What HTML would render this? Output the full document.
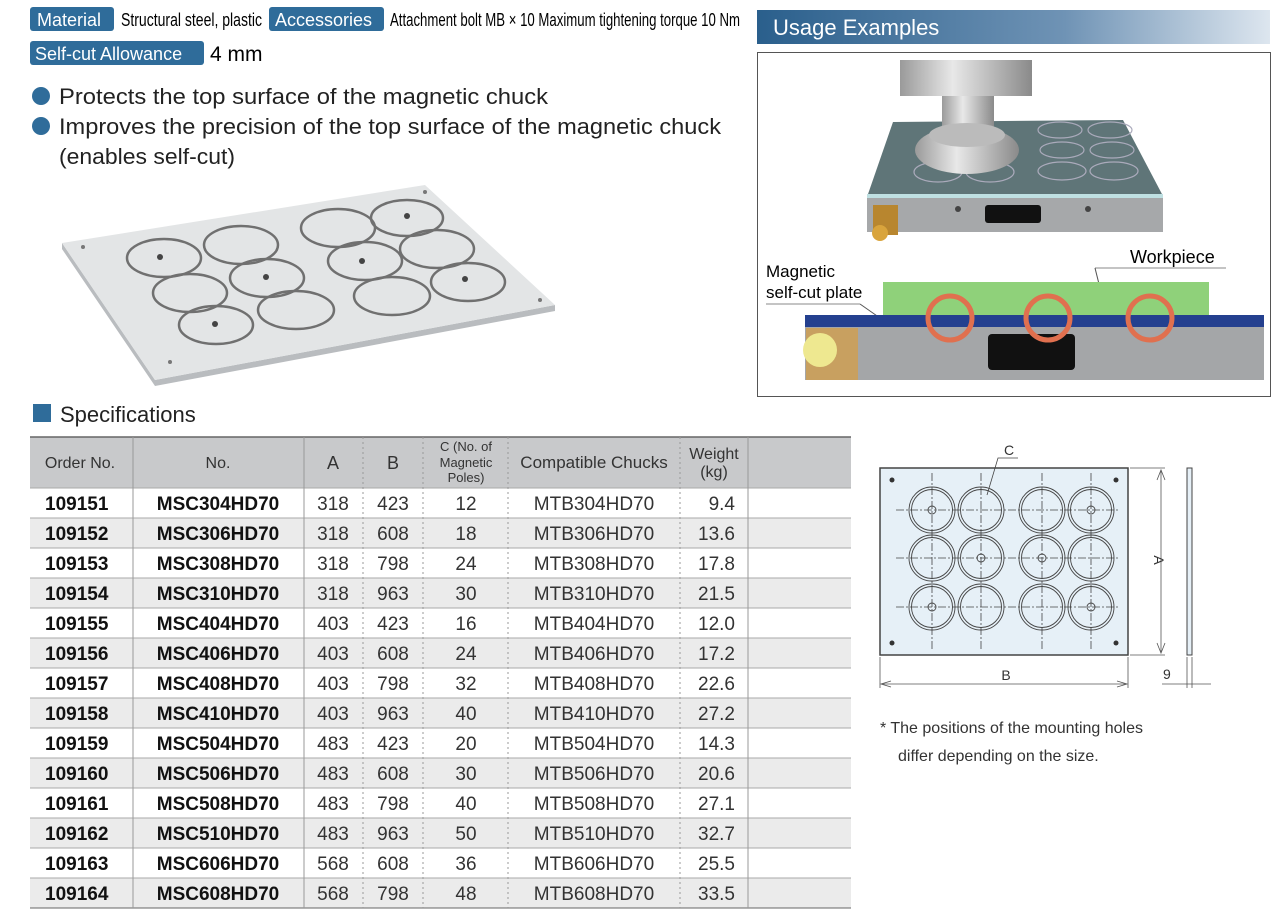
<!DOCTYPE html>
<html><head><meta charset="utf-8"><style>
body{margin:0;background:#fff;}
svg{display:block;font-family:"Liberation Sans",sans-serif;}
</style></head><body>
<svg width="1280" height="919" viewBox="0 0 1280 919" xmlns="http://www.w3.org/2000/svg">
<defs>
<linearGradient id="ub" x1="0" x2="1" y1="0" y2="0"><stop offset="0" stop-color="#2a5f8c"/><stop offset="0.6" stop-color="#6f93b5"/><stop offset="1" stop-color="#dde6ef"/></linearGradient>
<linearGradient id="sp" x1="0" x2="1"><stop offset="0" stop-color="#9a9a9a"/><stop offset="0.4" stop-color="#e8e8e8"/><stop offset="1" stop-color="#8a8a8a"/></linearGradient>
</defs>
<!-- badges -->
<rect x="30" y="7" width="84" height="24" rx="3" fill="#2f6c9a"/>
<text x="37" y="26" font-size="18" fill="#fff">Material</text>
<text x="121" y="26" font-size="18" textLength="141" lengthAdjust="spacingAndGlyphs">Structural steel, plastic</text>
<rect x="269" y="7" width="115" height="24" rx="3" fill="#2f6c9a"/>
<text x="275" y="26" font-size="18" fill="#fff">Accessories</text>
<text x="390" y="26" font-size="18" textLength="350" lengthAdjust="spacingAndGlyphs">Attachment bolt MB × 10  Maximum tightening torque 10 Nm</text>
<rect x="30" y="41" width="174" height="24" rx="3" fill="#2f6c9a"/>
<text x="35" y="60" font-size="18" fill="#fff">Self-cut Allowance</text>
<text x="210" y="61" font-size="21">4 mm</text>
<circle cx="41" cy="96" r="9" fill="#2f6c9a"/>
<text x="59" y="104" font-size="22" fill="#222" textLength="489" lengthAdjust="spacingAndGlyphs">Protects the top surface of the magnetic chuck</text>
<circle cx="41" cy="126" r="9" fill="#2f6c9a"/>
<text x="59" y="134" font-size="22" fill="#222" textLength="662" lengthAdjust="spacingAndGlyphs">Improves the precision of the top surface of the magnetic chuck</text>
<text x="59" y="164" font-size="22" fill="#222" textLength="176" lengthAdjust="spacingAndGlyphs">(enables self-cut)</text>

<!-- product plate -->
<polygon points="62,243 155,380 555,305 555,311 155,386 62,249" fill="#b9bcbf"/>
<polygon points="62,243 425,185 555,305 155,380" fill="#e3e5e6"/>
<g fill="none" stroke="#707070" stroke-width="2.5">
<ellipse cx="164" cy="258" rx="37" ry="19"/><ellipse cx="241" cy="245" rx="37" ry="19"/>
<ellipse cx="338" cy="228" rx="37" ry="19"/><ellipse cx="407" cy="218" rx="36" ry="18"/>
<ellipse cx="190" cy="293" rx="37" ry="19"/><ellipse cx="267" cy="278" rx="37" ry="19"/>
<ellipse cx="365" cy="261" rx="37" ry="19"/><ellipse cx="437" cy="249" rx="37" ry="19"/>
<ellipse cx="216" cy="325" rx="37" ry="19"/><ellipse cx="296" cy="310" rx="38" ry="19"/>
<ellipse cx="392" cy="296" rx="38" ry="19"/><ellipse cx="468" cy="282" rx="37" ry="19"/>
</g>
<g fill="#444"><circle cx="160" cy="257" r="3"/><circle cx="407" cy="216" r="3"/>
<circle cx="266" cy="277" r="3"/><circle cx="362" cy="261" r="3"/>
<circle cx="215" cy="324" r="3"/><circle cx="465" cy="279" r="3"/></g>
<circle cx="83" cy="247" r="2" fill="#777"/><circle cx="425" cy="192" r="2" fill="#777"/><circle cx="540" cy="300" r="2" fill="#777"/><circle cx="170" cy="362" r="2" fill="#777"/>

<!-- usage -->
<rect x="757" y="10" width="513" height="34" fill="url(#ub)"/>
<text x="773" y="35" font-size="22" fill="#fff">Usage Examples</text>
<rect x="757.5" y="52.5" width="513" height="344" fill="#fff" stroke="#555"/>
<polygon points="867,197 893,122 1123,120 1163,196" fill="#5f7578"/>
<rect x="867" y="197" width="296" height="35" fill="#a6a8aa"/>
<rect x="867" y="194" width="296" height="4" fill="#bfe0e2"/>
<g fill="none" stroke="#aab" stroke-width="1.2">
<ellipse cx="938" cy="172" rx="24" ry="10"/><ellipse cx="990" cy="172" rx="24" ry="10"/>
<ellipse cx="1060" cy="130" rx="22" ry="8"/><ellipse cx="1110" cy="130" rx="22" ry="8"/>
<ellipse cx="1062" cy="150" rx="22" ry="8"/><ellipse cx="1112" cy="150" rx="22" ry="8"/>
<ellipse cx="1062" cy="171" rx="24" ry="9"/><ellipse cx="1114" cy="171" rx="24" ry="9"/>
</g>
<rect x="900" y="60" width="132" height="36" fill="url(#sp)"/>
<rect x="942" y="96" width="52" height="32" fill="url(#sp)"/>
<ellipse cx="967" cy="150" rx="52" ry="24" fill="url(#sp)"/>
<ellipse cx="967" cy="135" rx="38" ry="12" fill="#bbb"/>
<rect x="985" y="205" width="56" height="18" rx="3" fill="#111"/>
<circle cx="958" cy="209" r="3" fill="#444"/><circle cx="1088" cy="209" r="3" fill="#444"/>
<rect x="873" y="205" width="25" height="30" fill="#b8862f"/>
<circle cx="880" cy="233" r="8" fill="#d9a43c"/>

<text x="1130" y="263" font-size="18">Workpiece</text>
<line x1="1095" y1="268" x2="1226" y2="268" stroke="#888"/>
<line x1="1095" y1="268" x2="1102" y2="296" stroke="#555"/>
<text x="766" y="277" font-size="17">Magnetic</text>
<text x="766" y="298" font-size="17">self-cut plate</text>
<line x1="766" y1="304" x2="860" y2="304" stroke="#888"/>
<line x1="860" y1="304" x2="880" y2="318" stroke="#555"/>
<rect x="883" y="282" width="326" height="34" fill="#8fd17a"/>
<rect x="805" y="315" width="459" height="12" fill="#24408f"/>
<rect x="805" y="327" width="459" height="53" fill="#a4a6a8"/>
<rect x="988" y="334" width="87" height="36" rx="4" fill="#111"/>
<rect x="806" y="328" width="52" height="52" fill="#c8a060"/>
<circle cx="820" cy="350" r="17" fill="#eee890"/>
<g fill="none" stroke="#e0704f" stroke-width="5">
<circle cx="950" cy="318" r="22"/><circle cx="1048" cy="318" r="22"/><circle cx="1150" cy="318" r="22"/>
</g>

<!-- specifications -->
<rect x="33" y="404" width="18" height="18" fill="#2f6c9a"/>
<text x="60" y="422" font-size="22" fill="#222">Specifications</text>
<rect x="30" y="437" width="821" height="51" fill="#c8c9cb"/>
<line x1="30" y1="437" x2="851" y2="437" stroke="#666" stroke-width="1.5"/>
<g fill="#333" font-size="16" text-anchor="middle">
<text x="80" y="468">Order No.</text><text x="218" y="468">No.</text>
<text x="333" y="469" font-size="18">A</text><text x="393" y="469" font-size="18">B</text>
<text x="466" y="451" font-size="13">C (No. of</text><text x="466" y="467" font-size="13">Magnetic</text><text x="466" y="482" font-size="13">Poles)</text>
<text x="594" y="468" font-size="17">Compatible Chucks</text>
<text x="714" y="459" font-size="16">Weight</text><text x="714" y="477" font-size="16">(kg)</text>
</g>
<g id="rows" font-size="19" fill="#111">
<rect x="30" y="518" width="821" height="30" fill="#ebebeb"/>
<rect x="30" y="578" width="821" height="30" fill="#ebebeb"/>
<rect x="30" y="638" width="821" height="30" fill="#ebebeb"/>
<rect x="30" y="698" width="821" height="30" fill="#ebebeb"/>
<rect x="30" y="758" width="821" height="30" fill="#ebebeb"/>
<rect x="30" y="818" width="821" height="30" fill="#ebebeb"/>
<rect x="30" y="878" width="821" height="30" fill="#ebebeb"/>
<g stroke="#aaa" stroke-width="1">
<line x1="30" y1="488" x2="851" y2="488"/><line x1="30" y1="518" x2="851" y2="518"/><line x1="30" y1="548" x2="851" y2="548"/><line x1="30" y1="578" x2="851" y2="578"/><line x1="30" y1="608" x2="851" y2="608"/><line x1="30" y1="638" x2="851" y2="638"/><line x1="30" y1="668" x2="851" y2="668"/><line x1="30" y1="698" x2="851" y2="698"/><line x1="30" y1="728" x2="851" y2="728"/><line x1="30" y1="758" x2="851" y2="758"/><line x1="30" y1="788" x2="851" y2="788"/><line x1="30" y1="818" x2="851" y2="818"/><line x1="30" y1="848" x2="851" y2="848"/><line x1="30" y1="878" x2="851" y2="878"/><line x1="30" y1="908" x2="851" y2="908" stroke="#666"/>
</g>
<g stroke="#999" stroke-width="1">
<line x1="133" y1="437" x2="133" y2="908"/><line x1="304" y1="437" x2="304" y2="908"/><line x1="748" y1="437" x2="748" y2="908"/>
</g>
<g stroke="#999" stroke-width="1" stroke-dasharray="2,3">
<line x1="363" y1="437" x2="363" y2="908"/><line x1="423" y1="437" x2="423" y2="908"/><line x1="508" y1="437" x2="508" y2="908"/><line x1="680" y1="437" x2="680" y2="908"/>
</g>
<g font-weight="bold"><text x="45" y="510">109151</text><text x="45" y="540">109152</text><text x="45" y="570">109153</text><text x="45" y="600">109154</text><text x="45" y="630">109155</text><text x="45" y="660">109156</text><text x="45" y="690">109157</text><text x="45" y="720">109158</text><text x="45" y="750">109159</text><text x="45" y="780">109160</text><text x="45" y="810">109161</text><text x="45" y="840">109162</text><text x="45" y="870">109163</text><text x="45" y="900">109164</text></g>
<g font-weight="bold" text-anchor="middle"><text x="218" y="510">MSC304HD70</text><text x="218" y="540">MSC306HD70</text><text x="218" y="570">MSC308HD70</text><text x="218" y="600">MSC310HD70</text><text x="218" y="630">MSC404HD70</text><text x="218" y="660">MSC406HD70</text><text x="218" y="690">MSC408HD70</text><text x="218" y="720">MSC410HD70</text><text x="218" y="750">MSC504HD70</text><text x="218" y="780">MSC506HD70</text><text x="218" y="810">MSC508HD70</text><text x="218" y="840">MSC510HD70</text><text x="218" y="870">MSC606HD70</text><text x="218" y="900">MSC608HD70</text></g>
<g text-anchor="middle" fill="#333"><text x="333" y="510">318</text><text x="333" y="540">318</text><text x="333" y="570">318</text><text x="333" y="600">318</text><text x="333" y="630">403</text><text x="333" y="660">403</text><text x="333" y="690">403</text><text x="333" y="720">403</text><text x="333" y="750">483</text><text x="333" y="780">483</text><text x="333" y="810">483</text><text x="333" y="840">483</text><text x="333" y="870">568</text><text x="333" y="900">568</text>
<text x="393" y="510">423</text><text x="393" y="540">608</text><text x="393" y="570">798</text><text x="393" y="600">963</text><text x="393" y="630">423</text><text x="393" y="660">608</text><text x="393" y="690">798</text><text x="393" y="720">963</text><text x="393" y="750">423</text><text x="393" y="780">608</text><text x="393" y="810">798</text><text x="393" y="840">963</text><text x="393" y="870">608</text><text x="393" y="900">798</text>
<text x="466" y="510">12</text><text x="466" y="540">18</text><text x="466" y="570">24</text><text x="466" y="600">30</text><text x="466" y="630">16</text><text x="466" y="660">24</text><text x="466" y="690">32</text><text x="466" y="720">40</text><text x="466" y="750">20</text><text x="466" y="780">30</text><text x="466" y="810">40</text><text x="466" y="840">50</text><text x="466" y="870">36</text><text x="466" y="900">48</text>
<text x="594" y="510">MTB304HD70</text><text x="594" y="540">MTB306HD70</text><text x="594" y="570">MTB308HD70</text><text x="594" y="600">MTB310HD70</text><text x="594" y="630">MTB404HD70</text><text x="594" y="660">MTB406HD70</text><text x="594" y="690">MTB408HD70</text><text x="594" y="720">MTB410HD70</text><text x="594" y="750">MTB504HD70</text><text x="594" y="780">MTB506HD70</text><text x="594" y="810">MTB508HD70</text><text x="594" y="840">MTB510HD70</text><text x="594" y="870">MTB606HD70</text><text x="594" y="900">MTB608HD70</text></g>
<g text-anchor="end" fill="#333"><text x="735" y="510">9.4</text><text x="735" y="540">13.6</text><text x="735" y="570">17.8</text><text x="735" y="600">21.5</text><text x="735" y="630">12.0</text><text x="735" y="660">17.2</text><text x="735" y="690">22.6</text><text x="735" y="720">27.2</text><text x="735" y="750">14.3</text><text x="735" y="780">20.6</text><text x="735" y="810">27.1</text><text x="735" y="840">32.7</text><text x="735" y="870">25.5</text><text x="735" y="900">33.5</text></g>
</g>

<!-- drawing -->
<rect x="880" y="468" width="248" height="187" fill="#e6f0f7" stroke="#444" stroke-width="1.5"/>
<g stroke="#444" stroke-width="0.8" stroke-dasharray="8,2,2,2" fill="none">
<line x1="932" y1="473" x2="932" y2="650"/><line x1="981" y1="473" x2="981" y2="650"/><line x1="1042" y1="473" x2="1042" y2="650"/><line x1="1091" y1="473" x2="1091" y2="650"/>
<line x1="896" y1="510" x2="1120" y2="510"/><line x1="896" y1="558" x2="1120" y2="558"/><line x1="896" y1="607" x2="1120" y2="607"/>
</g>
<g fill="none" stroke="#444" stroke-width="0.9">
<circle cx="932" cy="510" r="23"/><circle cx="932" cy="510" r="20.5"/>
<circle cx="981" cy="510" r="23"/><circle cx="981" cy="510" r="20.5"/>
<circle cx="1042" cy="510" r="23"/><circle cx="1042" cy="510" r="20.5"/>
<circle cx="1091" cy="510" r="23"/><circle cx="1091" cy="510" r="20.5"/>
<circle cx="932" cy="558" r="23"/><circle cx="932" cy="558" r="20.5"/>
<circle cx="981" cy="558" r="23"/><circle cx="981" cy="558" r="20.5"/>
<circle cx="1042" cy="558" r="23"/><circle cx="1042" cy="558" r="20.5"/>
<circle cx="1091" cy="558" r="23"/><circle cx="1091" cy="558" r="20.5"/>
<circle cx="932" cy="607" r="23"/><circle cx="932" cy="607" r="20.5"/>
<circle cx="981" cy="607" r="23"/><circle cx="981" cy="607" r="20.5"/>
<circle cx="1042" cy="607" r="23"/><circle cx="1042" cy="607" r="20.5"/>
<circle cx="1091" cy="607" r="23"/><circle cx="1091" cy="607" r="20.5"/>
<circle cx="932" cy="510" r="4"/><circle cx="1091" cy="510" r="4"/><circle cx="981" cy="558" r="4"/><circle cx="1042" cy="558" r="4"/><circle cx="932" cy="607" r="4"/><circle cx="1091" cy="607" r="4"/>
</g>
<g fill="#333"><circle cx="892" cy="480" r="2.5"/><circle cx="1116" cy="480" r="2.5"/><circle cx="892" cy="643" r="2.5"/><circle cx="1116" cy="643" r="2.5"/></g>
<text x="1004" y="455" font-size="14" fill="#333">C</text>
<polyline points="1018,458 998,458 987,495" fill="none" stroke="#444" stroke-width="0.8"/>
<rect x="1187" y="468" width="5" height="187" fill="#e6f0f7" stroke="#444"/>
<g stroke="#555" stroke-width="0.8" fill="none">
<line x1="1130" y1="468" x2="1165" y2="468"/><line x1="1130" y1="655" x2="1165" y2="655"/>
<line x1="1161" y1="470" x2="1161" y2="653"/>
<polyline points="1157,480 1161,470 1165,480"/><polyline points="1157,643 1161,653 1165,643"/>
<line x1="880" y1="657" x2="880" y2="688"/><line x1="1128" y1="657" x2="1128" y2="688"/>
<line x1="881" y1="684" x2="1127" y2="684"/>
<polyline points="891,681 881,684 891,687"/><polyline points="1117,681 1127,684 1117,687"/>
<line x1="1187" y1="657" x2="1187" y2="688"/><line x1="1192" y1="657" x2="1192" y2="688"/>
<line x1="1162" y1="684" x2="1211" y2="684"/>
</g>
<text x="1154" y="560" font-size="14" fill="#333" transform="rotate(90 1154 560)" text-anchor="middle">A</text>
<text x="1006" y="680" font-size="14" fill="#333" text-anchor="middle">B</text>
<text x="1163" y="679" font-size="14" fill="#333">9</text>
<text x="880" y="733" font-size="16" fill="#333">*  The positions of the mounting holes</text>
<text x="898" y="761" font-size="16" fill="#333">differ depending on the size.</text>
</svg>
</body></html>
